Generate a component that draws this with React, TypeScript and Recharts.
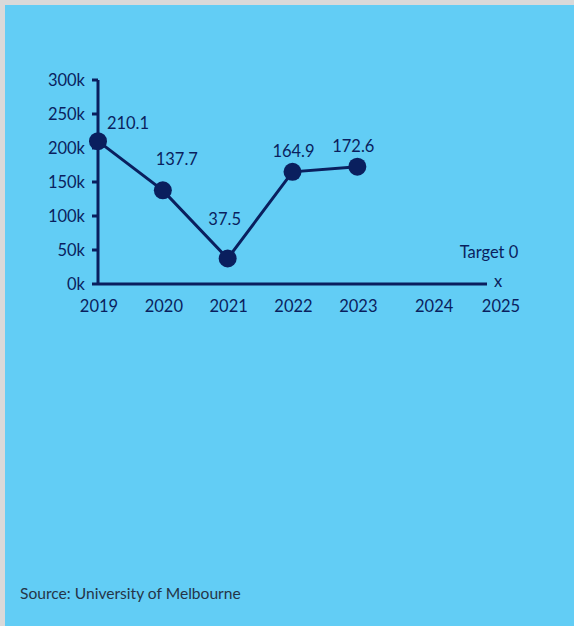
import { LineChart, Line, XAxis, YAxis, LabelList, ReferenceDot } from "recharts"

const years = [2019, 2020, 2021, 2022, 2023]
const values = [210100, 137700, 37500, 164900, 172600]
const valueLabels = ["210.1", "137.7", "37.5", "164.9", "172.6"]
const xTicks = [2019, 2020, 2021, 2022, 2023, 2024, 2025]
const yTicks = [0, 50000, 100000, 150000, 200000, 250000, 300000]
const targetYear = 2025
const targetValue = 0
const targetLabel = "Target 0"

const NAVY = "#0a1f5e"
const BLUE = "#62cdf5"
const FONT = "Lato, 'Noto Sans', sans-serif"

// nudges so labels sit where the original put them
const LABEL_OFFSETS: [number, number][] = [[30, -18], [14, -31], [-3, -40], [1, -21], [-4, -21]]
const TICK_SHIFT: Record<number, number> = { 2024: 12, 2025: 14 }

const rows = years.map((y, i) => ({ year: y, value: values[i], label: valueLabels[i] }))

function XTick(props: any) {
  const { x, y, payload } = props
  const shift = TICK_SHIFT[payload.value] ?? 1
  return (
    <text x={x + shift} y={y + 8} dy="0.71em" textAnchor="middle" fill={NAVY} fontSize={16.5} fontFamily={FONT}>
      {payload.value}
    </text>
  )
}

function PointLabel(props: any) {
  const { x, y, index, value } = props
  const [dx, dy] = LABEL_OFFSETS[index] ?? [0, -20]
  return (
    <text x={x + dx} y={y + dy} textAnchor="middle" dominantBaseline="central" fill={NAVY} fontSize={16.5} fontFamily={FONT}>
      {value}
    </text>
  )
}

function TargetLabel(props: any) {
  const { viewBox } = props
  const cx = viewBox.x + (viewBox.width ?? 0) / 2
  const cy = viewBox.y + (viewBox.height ?? 0) / 2
  return (
    <g>
      <text x={cx + 2} y={cy - 32} textAnchor="middle" dominantBaseline="central" fill={NAVY} fontSize={16.5} fontFamily={FONT}>
        {targetLabel}
      </text>
      <text x={cx + 11} y={cy + 3} textAnchor="middle" fill={NAVY} fontSize={16.5} fontFamily={FONT}>
        x
      </text>
    </g>
  )
}

export default function App() {
  return (
    <div style={{ position: "absolute", left: 0, top: 0, width: 574, height: 626, background: "#d9d9d9" }}>
      <div style={{ position: "absolute", left: 5, top: 5, width: 569, height: 621, background: BLUE }} />
      <div style={{ position: "absolute", left: 0, top: 0 }}>
        <LineChart width={574} height={330} data={rows} margin={{ top: 80, right: 87, bottom: 16, left: 38 }}>
          <XAxis
            dataKey="year"
            type="number"
            domain={[2019, 2025]}
            ticks={xTicks}
            stroke={NAVY}
            strokeWidth={3}
            tickLine={false}
            tick={<XTick />}
            height={30}
          />
          <YAxis
            type="number"
            domain={[0, 300000]}
            ticks={yTicks}
            tickFormatter={(v: number) => `${v / 1000}k`}
            stroke={NAVY}
            strokeWidth={3}
            tickSize={6}
            tickMargin={7}
            width={60}
            tick={{ fill: NAVY, fontSize: 16.5, fontFamily: FONT }}
          />
          <Line
            type="linear"
            dataKey="value"
            stroke={NAVY}
            strokeWidth={3}
            dot={{ r: 9, fill: NAVY, stroke: "none" }}
            isAnimationActive={false}
          >
            <LabelList dataKey="label" content={<PointLabel />} />
          </Line>
          <ReferenceDot x={targetYear} y={targetValue} r={0} stroke="none" label={<TargetLabel />} ifOverflow="visible" />
        </LineChart>
      </div>
      <div style={{ position: "absolute", left: 20, top: 584, fontFamily: FONT, fontSize: 15.6, color: "#253548" }}>
        Source: University of Melbourne
      </div>
    </div>
  )
}
